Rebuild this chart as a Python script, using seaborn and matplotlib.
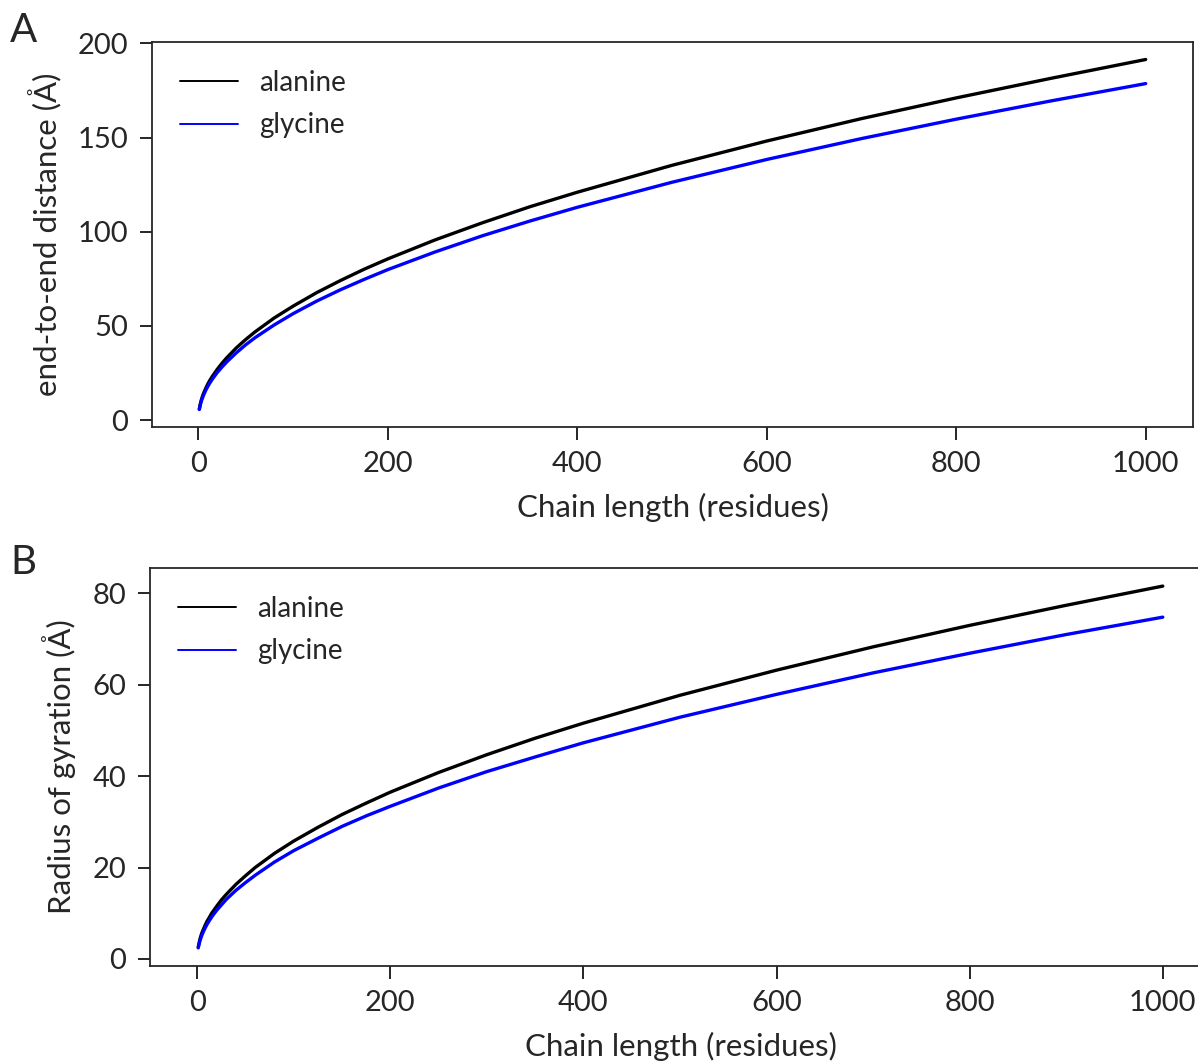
import numpy as np
import pandas as pd
import matplotlib
matplotlib.use("Agg")
import matplotlib.pyplot as plt
import seaborn as sns

# values
chain_length = [1, 2, 3, 4, 5, 6, 8, 10, 12, 15, 20, 25, 30, 40, 50, 60, 80, 100,
                125, 150, 175, 200, 250, 300, 350, 400, 500, 600, 700, 800, 900, 1000]
e2e_alanine = [5.8, 8.5, 10.5, 12.1, 13.6, 14.8, 17.1, 19.2, 21.0, 23.4, 27.0, 30.2,
               33.1, 38.3, 42.8, 46.9, 54.2, 60.5, 67.7, 74.1, 80.1, 85.6, 95.7,
               104.8, 113.3, 121.0, 135.3, 148.2, 160.1, 171.1, 181.5, 191.5]
e2e_glycine = [5.6, 8.0, 9.8, 11.3, 12.6, 13.8, 16.0, 17.9, 19.6, 21.9, 25.3, 28.2,
               30.9, 35.7, 40.0, 43.8, 50.5, 56.5, 63.2, 69.2, 74.7, 79.9, 89.3,
               97.9, 105.7, 113.0, 126.3, 138.4, 149.5, 159.8, 169.5, 178.7]
rg_alanine = [2.6, 3.6, 4.5, 5.2, 5.8, 6.3, 7.3, 8.2, 8.9, 10.0, 11.5, 12.9,
              14.1, 16.3, 18.2, 20.0, 23.1, 25.8, 28.8, 31.6, 34.1, 36.5, 40.8,
              44.7, 48.3, 51.6, 57.7, 63.2, 68.3, 73.0, 77.4, 81.6]
rg_glycine = [2.4, 3.3, 4.1, 4.7, 5.3, 5.8, 6.7, 7.5, 8.2, 9.2, 10.6, 11.8,
              13.0, 15.0, 16.7, 18.3, 21.2, 23.7, 26.4, 29.0, 31.3, 33.4, 37.4,
              41.0, 44.2, 47.3, 52.9, 57.9, 62.6, 66.9, 71.0, 74.8]
residues = ["alanine", "glycine"]
colors = {"alanine": "black", "glycine": "blue"}

sns.set_style("ticks")
plt.rcParams["font.family"] = ["Lato", "DejaVu Sans"]
plt.rcParams["axes.linewidth"] = 1.3


def long_df(ala, gly):
    return pd.DataFrame({
        "n": chain_length * 2,
        "val": ala + gly,
        "residue": [residues[0]] * len(ala) + [residues[1]] * len(gly),
    })


fig = plt.figure(figsize=(11.98, 10.63), dpi=100)
W, H = 1198, 1063
axA = fig.add_axes([152 / W, 1 - 427 / H, (1193 - 152) / W, (427 - 42) / H])
axB = fig.add_axes([150 / W, 1 - 966 / H, (1211 - 150) / W, (966 - 568) / H])

panels = [
    (axA, long_df(e2e_alanine, e2e_glycine), "end-to-end distance (Å)", "A", 1 - 30 / H),
    (axB, long_df(rg_alanine, rg_glycine), "Radius of gyration (Å)", "B", 1 - 563 / H),
]

for ax, df, ylab, letter, ly in panels:
    sns.lineplot(data=df, x="n", y="val", hue="residue", palette=colors,
                 linewidth=2.4, ax=ax)
    ax.set_xlabel("Chain length (residues)", fontsize=22.5, labelpad=12)
    ax.set_ylabel(ylab, fontsize=22.5, labelpad=12)
    ax.tick_params(labelsize=21, length=9, width=1.4, direction="out", pad=8)
    leg = ax.legend(loc="upper left", frameon=False, fontsize=20,
                    handlelength=2.1, handletextpad=0.75, labelspacing=0.6,
                    borderaxespad=0.6)
    for line in leg.get_lines():
        line.set_linewidth(1.4)
    fig.text(10 / W, ly, letter, fontsize=29, va="center", ha="left")

axA.set_xticks([0, 200, 400, 600, 800, 1000])
axB.set_xticks([0, 200, 400, 600, 800, 1000])
axA.set_yticks([0, 50, 100, 150, 200])
axB.set_yticks([0, 20, 40, 60, 80])

fig.savefig("out.png", dpi=100)
